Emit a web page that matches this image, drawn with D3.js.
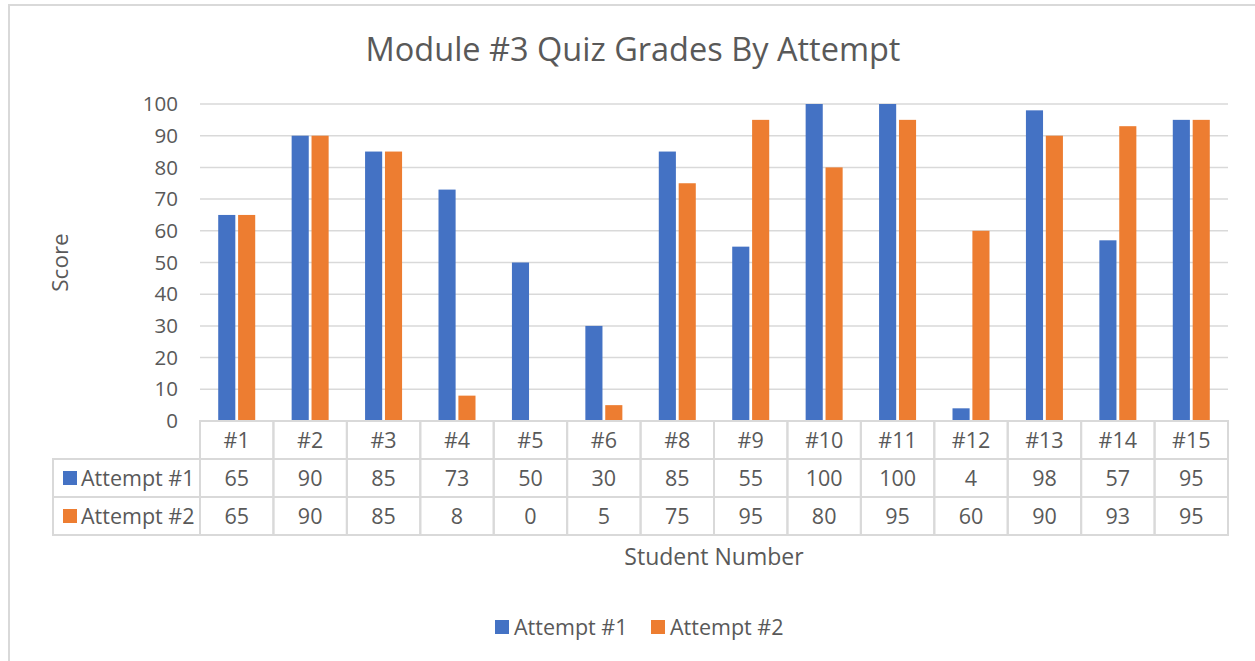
<!DOCTYPE html>
<html lang="en">
<head>
<meta charset="utf-8">
<title>Module #3 Quiz Grades By Attempt</title>
<style>
    body { margin: 0; background: #fff; }
    text { font-family: "Open Sans", "Noto Sans", sans-serif; fill: #595959; }
    .grid line { stroke: #d9d9d9; stroke-width: 1.5px; }
    .cell { fill: none; stroke: #d9d9d9; stroke-width: 2px; }
</style>
</head>
<body>
<script src="https://cdn.jsdelivr.net/npm/d3@7"></script>
<script>

    var students = ["#1", "#2", "#3", "#4", "#5", "#6", "#8", "#9", "#10", "#11", "#12", "#13", "#14", "#15"];
    var attempt1 = [65, 90, 85, 73, 50, 30, 85, 55, 100, 100, 4, 98, 57, 95];
    var attempt2 = [65, 90, 85, 8, 0, 5, 75, 95, 80, 95, 60, 90, 93, 95];
    var seriesNames = ["Attempt #1", "Attempt #2"];
    var yTicks = [0, 10, 20, 30, 40, 50, 60, 70, 80, 90, 100];

    var colors = ["#4472c4", "#ed7d31"];
    var series = [attempt1, attempt2];

    var W = 1255, H = 661;
    var plot = {left: 200, right: 1228, top: 104, bottom: 421};
    var tableLeft = 53, rowH = 38;

    var svg = d3.select("body").append("svg")
            .attr("width", W)
            .attr("height", H);

    // chart border
    svg.append("rect")
            .attr("x", 9).attr("y", 5)
            .attr("width", W).attr("height", H)
            .attr("fill", "#fff")
            .attr("stroke", "#d9d9d9")
            .attr("stroke-width", 2);

    svg.append("text")
            .attr("x", 633).attr("y", 61)
            .attr("text-anchor", "middle")
            .style("font-size", "32.5px")
            .text("Module #3 Quiz Grades By Attempt");

    var x = d3.scaleBand()
            .domain(students)
            .range([plot.left, plot.right]);

    var x1 = d3.scaleBand()
            .domain([0, 1])
            .range([0, 37])
            .paddingInner(0.14);

    var y = d3.scaleLinear()
            .domain([0, 100])
            .range([plot.bottom, plot.top]);

    // gridlines
    svg.append("g")
            .attr("class", "grid")
            .selectAll("line")
            .data(yTicks.slice(1))
            .enter().append("line")
            .attr("x1", plot.left).attr("x2", plot.right)
            .attr("y1", function(d) { return y(d); })
            .attr("y2", function(d) { return y(d); });

    // y axis labels
    svg.append("g")
            .selectAll("text")
            .data(yTicks)
            .enter().append("text")
            .attr("x", 178)
            .attr("y", function(d) { return y(d); })
            .attr("dy", "0.35em")
            .attr("text-anchor", "end")
            .style("font-size", "20.5px")
            .text(function(d) { return d; });

    svg.append("text")
            .attr("transform", "translate(68," + (plot.top + plot.bottom) / 2 + ") rotate(-90)")
            .attr("text-anchor", "middle")
            .style("font-size", "22.5px")
            .text("Score");

    // bars
    series.forEach(function(vals, si) {
        svg.append("g")
                .selectAll("rect")
                .data(vals)
                .enter().append("rect")
                .attr("x", function(d, i) { return x(students[i]) + (x.bandwidth() - 37) / 2 + x1(si); })
                .attr("width", x1.bandwidth())
                .attr("y", function(d) { return y(d); })
                .attr("height", function(d) { return y(0) - y(d); })
                .attr("fill", colors[si]);
    });

    // data table
    var table = svg.append("g");

    // header row cells
    table.selectAll("rect.head")
            .data(students)
            .enter().append("rect")
            .attr("class", "cell")
            .attr("x", function(d) { return x(d); })
            .attr("y", plot.bottom)
            .attr("width", x.bandwidth())
            .attr("height", rowH);

    table.selectAll("text.head")
            .data(students)
            .enter().append("text")
            .attr("x", function(d) { return x(d) + x.bandwidth() / 2; })
            .attr("y", plot.bottom + rowH / 2)
            .attr("dy", "0.35em")
            .attr("text-anchor", "middle")
            .style("font-size", "21.5px")
            .text(function(d) { return d; });

    series.forEach(function(vals, si) {
        var ry = plot.bottom + rowH * (si + 1);
        var row = table.append("g");

        row.append("rect")
                .attr("class", "cell")
                .attr("x", tableLeft).attr("y", ry)
                .attr("width", plot.left - tableLeft).attr("height", rowH);

        row.append("rect")
                .attr("x", 63).attr("y", ry + rowH / 2 - 7)
                .attr("width", 14).attr("height", 14)
                .attr("fill", colors[si]);

        row.append("text")
                .attr("x", 81).attr("y", ry + rowH / 2)
                .attr("dy", "0.35em")
                .style("font-size", "21.5px")
                .text(seriesNames[si]);

        row.selectAll("rect.v")
                .data(vals)
                .enter().append("rect")
                .attr("class", "cell")
                .attr("x", function(d, i) { return x(students[i]); })
                .attr("y", ry)
                .attr("width", x.bandwidth())
                .attr("height", rowH);

        row.selectAll("text.v")
                .data(vals)
                .enter().append("text")
                .attr("x", function(d, i) { return x(students[i]) + x.bandwidth() / 2; })
                .attr("y", ry + rowH / 2)
                .attr("dy", "0.35em")
                .attr("text-anchor", "middle")
                .style("font-size", "21.5px")
                .text(function(d) { return d; });
    });

    svg.append("text")
            .attr("x", 714).attr("y", 557)
            .attr("dy", "0.35em")
            .attr("text-anchor", "middle")
            .style("font-size", "23px")
            .text("Student Number");

    // legend
    var legendX = [495, 651];
    var legend = svg.append("g")
            .selectAll("g")
            .data(seriesNames)
            .enter().append("g")
            .attr("transform", function(d, i) { return "translate(" + legendX[i] + ",627)"; });

    legend.append("rect")
            .attr("y", -7)
            .attr("width", 14).attr("height", 14)
            .attr("fill", function(d, i) { return colors[i]; });

    legend.append("text")
            .attr("x", 19)
            .attr("dy", "0.35em")
            .style("font-size", "21.5px")
            .text(function(d) { return d; });

</script>
</body>
</html>
